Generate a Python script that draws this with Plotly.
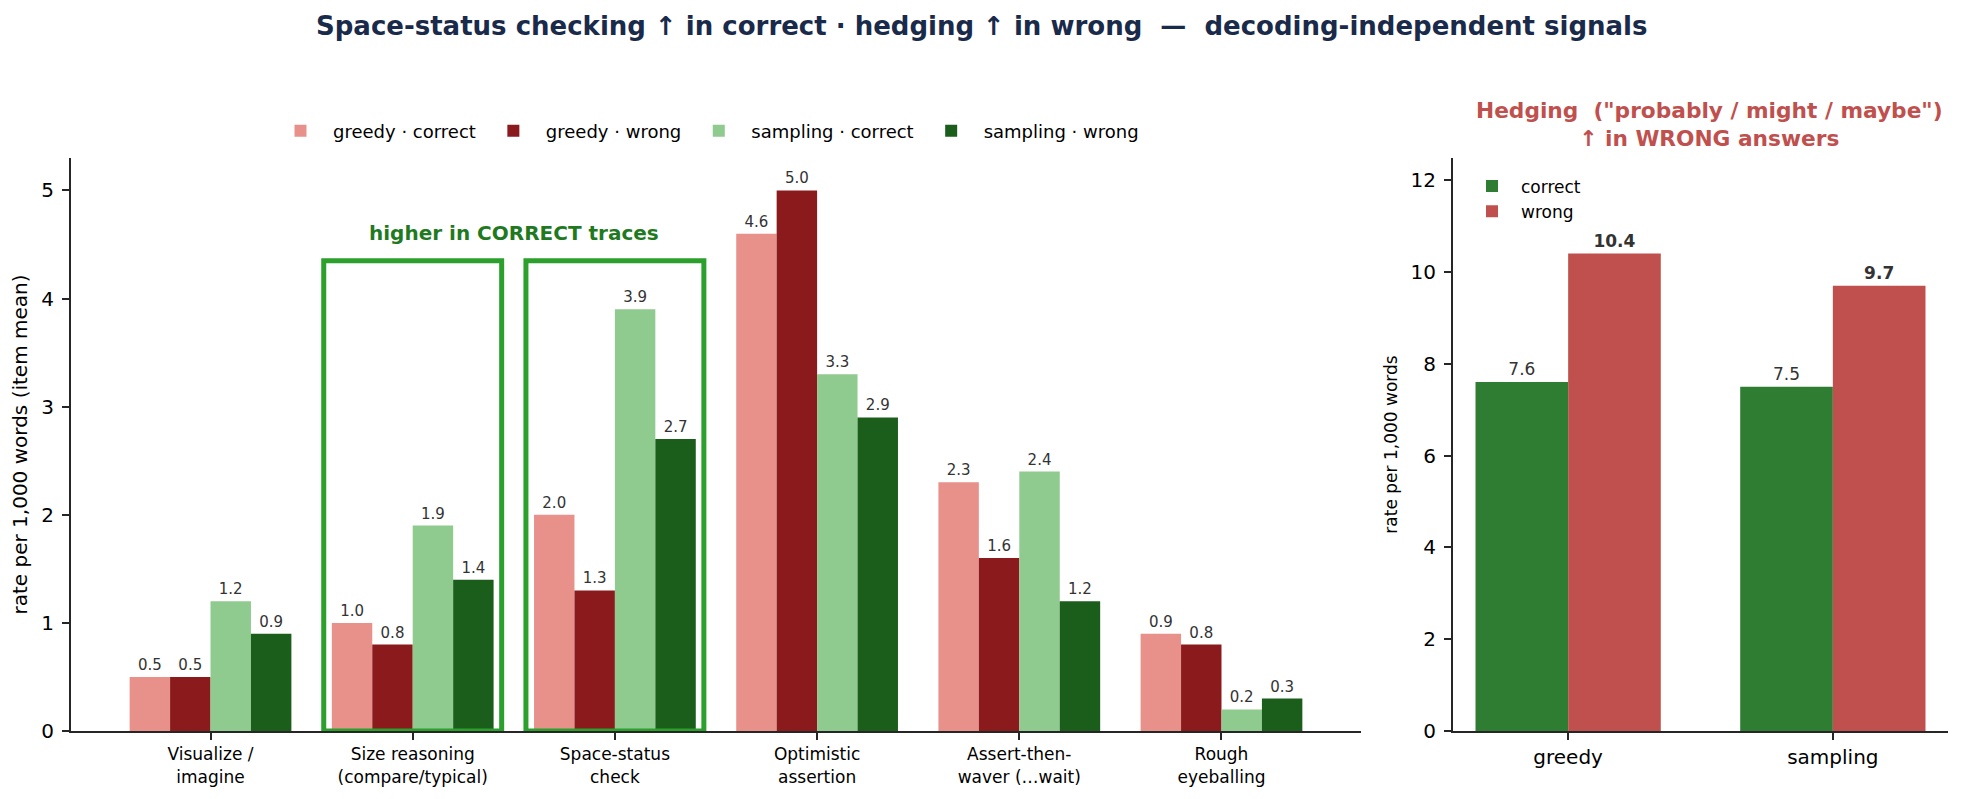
import plotly.graph_objects as go

# left panel: marker rates per 1,000 words, by decoding and correctness
categories = ["Visualize /<br>imagine", "Size reasoning<br>(compare/typical)",
              "Space-status<br>check", "Optimistic<br>assertion",
              "Assert-then-<br>waver (…wait)", "Rough<br>eyeballing"]
greedy_correct = [0.5, 1.0, 2.0, 4.6, 2.3, 0.9]
greedy_wrong = [0.5, 0.8, 1.3, 5.0, 1.6, 0.8]
sampling_correct = [1.2, 1.9, 3.9, 3.3, 2.4, 0.2]
sampling_wrong = [0.9, 1.4, 2.7, 2.9, 1.2, 0.3]

# right panel: hedging rate
decodings = ["greedy", "sampling"]
hedge_correct = [7.6, 7.5]
hedge_wrong = [10.4, 9.7]

highlight_groups = [1, 2]
box_top = 4.35

# page is 1963x799 but the body has an 8px margin
OFF = 8
W, H = 1963 - 2 * OFF, 799 - 2 * OFF
FONT = "DejaVu Sans"
AX = "#262626"


def px(x):
    return (x - OFF) / W


def py(y):
    return 1 - (y - OFF) / H


fig = go.Figure()

series = [
    ("greedy · correct", greedy_correct, "#e8918b"),
    ("greedy · wrong", greedy_wrong, "#8b1a1c"),
    ("sampling · correct", sampling_correct, "#8fca8f"),
    ("sampling · wrong", sampling_wrong, "#1b5e1b"),
]
for name, vals, col in series:
    fig.add_trace(go.Bar(
        x=categories, y=vals, name=name, marker_color=col, marker_line_width=0,
        texttemplate="%{y:.1f}", textposition="outside", constraintext="none",
        textfont=dict(size=15, color="#333333", family=FONT),
        cliponaxis=False, xaxis="x", yaxis="y", legend="legend"))

# right panel bars: width 0.35 each, side by side
fig.add_trace(go.Bar(
    x=decodings, y=hedge_correct, name="correct", marker_color="#2e7d32",
    marker_line_width=0, width=0.35, offset=-0.35,
    texttemplate="%{y:.1f}", textposition="outside",
    constraintext="none", textfont=dict(size=17, color="#333333", family=FONT),
    cliponaxis=False, xaxis="x2", yaxis="y2", legend="legend2"))
fig.add_trace(go.Bar(
    x=decodings, y=hedge_wrong, name="wrong", marker_color="#c0504d",
    marker_line_width=0, width=0.35, offset=0,
    texttemplate="<b>%{y:.1f}</b>", textposition="outside",
    constraintext="none", textfont=dict(size=17, color="#333333", family=FONT),
    cliponaxis=False, xaxis="x2", yaxis="y2", legend="legend2"))

# boxes around the groups that are higher in correct traces
for g in highlight_groups:
    fig.add_shape(type="rect", xref="x", yref="y", x0=g - 0.44, x1=g + 0.44,
                  y0=0, y1=box_top, line=dict(color="#2ca02c", width=5),
                  fillcolor="rgba(0,0,0,0)", layer="above")

fig.add_annotation(x=1.5, y=4.61, xref="x", yref="y", text="<b>higher in CORRECT traces</b>",
                   showarrow=False, xanchor="center",
                   font=dict(size=20, color="#1f7a1f", family=FONT))

fig.add_annotation(x=px(981.5), y=py(26), xref="paper", yref="paper",
                   text="<b>Space-status checking ↑ in correct · hedging ↑ in wrong  —  decoding-independent signals</b>",
                   showarrow=False, xanchor="center", yanchor="middle",
                   font=dict(size=26, color="#1a2a4a", family=FONT))

fig.add_annotation(x=px(1709), y=py(124), xref="paper", yref="paper",
                   text="<b>Hedging  (\"probably / might / maybe\")<br>↑ in WRONG answers</b>",
                   showarrow=False, xanchor="center", yanchor="middle",
                   font=dict(size=21.7, color="#c0504d", family=FONT))

axis_common = dict(showline=True, linecolor=AX, linewidth=2, ticks="outside",
                   ticklen=7, tickwidth=2, tickcolor=AX, showgrid=False,
                   zeroline=False, mirror=False, automargin=False)

fig.update_layout(
    width=W, height=H,
    margin=dict(l=0, r=0, t=0, b=0),
    paper_bgcolor="white", plot_bgcolor="white",
    font=dict(family=FONT, color="black"),
    barmode="group", bargap=0.2, bargroupgap=0,
    showlegend=True,
    xaxis=dict(domain=[px(71), px(1361)], range=[-0.69, 5.69],
               tickfont=dict(size=17), anchor="y", **axis_common),
    yaxis=dict(domain=[py(731), py(158)], range=[0, 5.3], dtick=1,
               tickfont=dict(size=20), anchor="x",
               title=dict(text="rate per 1,000 words (item mean)", font=dict(size=20), standoff=14),
               ticklabelstandoff=4, **axis_common),
    xaxis2=dict(domain=[px(1453), px(1948)], range=[-0.435, 1.435],
                tickfont=dict(size=20), anchor="y2", **axis_common),
    yaxis2=dict(domain=[py(731), py(158)], range=[0, 12.48], dtick=2,
                tickfont=dict(size=20), anchor="x2",
                title=dict(text="rate per 1,000 words", font=dict(size=17), standoff=9),
                ticklabelstandoff=4, **axis_common),
    legend=dict(orientation="h", x=px(706), y=py(131), xanchor="center",
                yanchor="middle", font=dict(size=18), itemwidth=55,
                bgcolor="rgba(0,0,0,0)"),
    legend2=dict(orientation="v", x=px(1463), y=py(168.5), xanchor="left",
                 yanchor="top", font=dict(size=17), itemwidth=48,
                 bgcolor="rgba(0,0,0,0)"),
)

fig.write_html("out.html")
